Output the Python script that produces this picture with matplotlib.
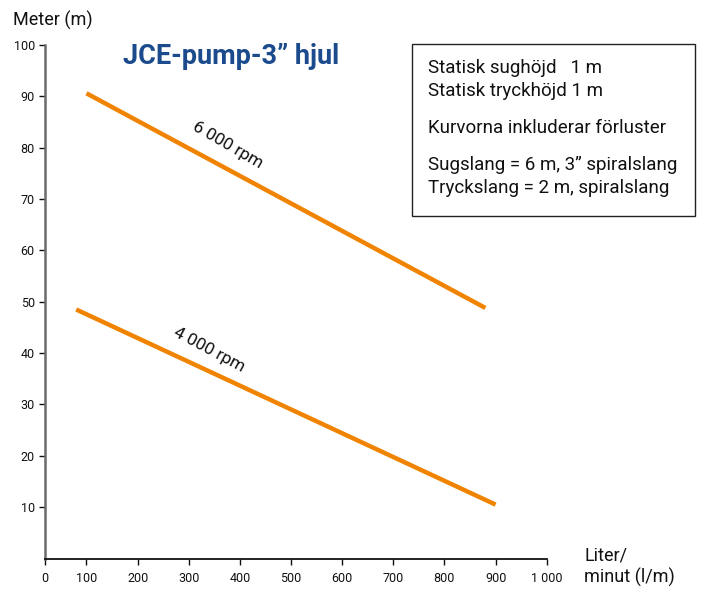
import matplotlib.pyplot as plt

# pump curves (flow l/min, head m)
flow_6000 = [100, 880]
head_6000 = [90.6, 48.8]
flow_4000 = [80, 900]
head_4000 = [48.5, 10.5]

x_ticks = [100, 200, 300, 400, 500, 600, 700, 800, 900, 1000]
y_ticks = [10, 20, 30, 40, 50, 60, 70, 80, 90, 100]

info_lines = [
    "Statisk sughöjd   1 m",
    "Statisk tryckhöjd 1 m",
    "Kurvorna inkluderar förluster",
    "Sugslang = 6 m, 3\u201d spiralslang",
    "Tryckslang = 2 m, spiralslang",
]
info_rows_px = [68, 91, 128, 165, 188]

ORANGE = "#f08300"
BLUE = "#1b4b8c"

plt.rcParams["font.family"] = ["Roboto", "DejaVu Sans"]

fig = plt.figure(figsize=(7.01, 5.95), dpi=100)
ax = fig.add_axes([0.0635, 0.0613, 0.7164, 0.863])

ax.plot(flow_6000, head_6000, color=ORANGE, lw=3.2, solid_capstyle="butt")
ax.plot(flow_4000, head_4000, color=ORANGE, lw=3.2, solid_capstyle="butt")

ax.text(377, 80.5, "6 000 rpm", rotation=-30, ha="center", va="center",
        fontsize=12.5, color="#111111")
ax.text(340, 40.6, "4 000 rpm", rotation=-28, ha="center", va="center",
        fontsize=12.5, color="#111111")

# the y axis sits slightly right of zero in the original, "0" drawn at the corner
ax.set_xlim(18, 1000)
ax.set_ylim(0, 100)
ax.set_xticks([18] + x_ticks)
ax.set_xticklabels(["0"] + [f"{v:,}".replace(",", " ") for v in x_ticks])
ax.set_yticks(y_ticks)
ax.tick_params(axis="both", direction="out", length=4, width=1,
               labelsize=9, colors="#111111", pad=3)
ax.tick_params(axis="x", pad=6)

for side in ("top", "right"):
    ax.spines[side].set_visible(False)
ax.spines["left"].set_color("#6b6b6b")
ax.spines["left"].set_linewidth(1.8)
ax.spines["bottom"].set_color("#111111")
ax.spines["bottom"].set_linewidth(1.3)

fig.text(13 / 701, 1 - 20 / 595, "Meter (m)", fontsize=13, va="center",
         ha="left", color="#111111")
fig.text(584 / 701, 1 - 555 / 595, "Liter/", fontsize=13,
         va="center", ha="left", color="#111111")
fig.text(584 / 701, 1 - 577 / 595, "minut (l/m)", fontsize=13,
         va="center", ha="left", color="#111111")

fig.text(123 / 701, 1 - 57 / 595, "JCE-pump-3\u201d hjul", fontsize=19.5,
         fontweight="bold", color=BLUE, va="center", ha="left")

# info box
box = plt.Rectangle((412 / 701, 1 - 216 / 595), 283 / 701, 172 / 595,
                    transform=fig.transFigure, facecolor="white",
                    edgecolor="#222222", lw=1.0)
fig.add_artist(box)
for line, row in zip(info_lines, info_rows_px):
    fig.text(428 / 701, 1 - row / 595, line, fontsize=13.5,
             va="center", ha="left", color="#111111")

fig.savefig("out.png", dpi=100, facecolor="white")
